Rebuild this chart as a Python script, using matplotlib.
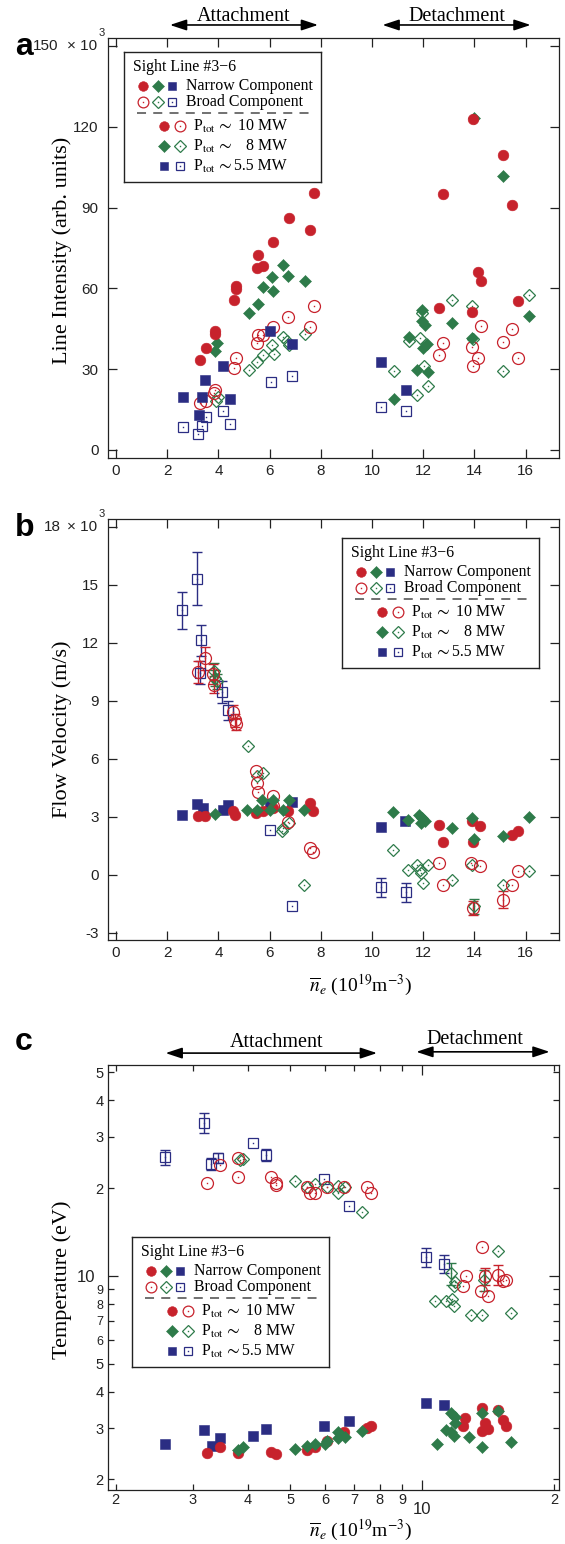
import matplotlib
matplotlib.use('Agg')
import matplotlib.pyplot as plt
import numpy as np
from matplotlib.ticker import FixedLocator, FixedFormatter
from matplotlib.patches import FancyArrowPatch
import matplotlib.transforms as mtransforms

# ======================= DATA =======================
# Panel a : line intensity (x10^3 arb. units) vs line-averaged density (10^19 m^-3)
a_red_n_x = [7.73, 6.74, 7.58, 6.15, 5.56, 5.49, 5.75, 4.67, 4.70, 4.61, 3.87, 3.87, 3.50, 3.28,
             13.96, 15.13, 12.76, 15.47, 14.15, 14.26, 12.62, 13.89, 15.71]
a_red_n_y = [95.6, 86.2, 81.8, 77.4, 72.5, 67.5, 68.4, 60.7, 59.8, 55.8, 44.0, 43.1, 38.0, 33.5,
             122.9, 109.4, 95.0, 90.8, 66.2, 62.6, 52.8, 51.2, 55.3]
a_grn_n_x = [6.54, 6.73, 6.08, 7.38, 5.75, 6.15, 5.53, 5.20, 3.93, 3.87,
             14.0, 15.13, 11.97, 11.94, 12.07, 13.11, 16.11, 11.45, 12.0, 12.15, 13.89, 11.77, 12.2, 10.86]
a_grn_n_y = [68.5, 64.7, 64.2, 62.9, 60.5, 59.2, 54.3, 50.8, 39.7, 36.6,
             123.3, 101.9, 51.8, 47.7, 46.5, 47.3, 49.8, 41.9, 37.8, 39.5, 41.5, 29.5, 29.1, 19.0]
a_blu_n_x = [6.02, 6.89, 4.17, 3.48, 2.60, 3.35, 4.45, 3.24, 10.34, 11.32]
a_blu_n_y = [44.0, 39.3, 31.0, 26.0, 19.8, 19.8, 19.0, 13.0, 32.5, 22.3]
a_red_b_x = [7.73, 6.73, 6.15, 7.58, 5.56, 5.73, 5.49, 4.69, 4.61, 3.87, 3.84, 3.28, 3.52,
             14.26, 15.47, 12.76, 13.91, 15.13, 12.62, 14.15, 15.71, 13.93]
a_red_b_y = [53.3, 49.2, 45.8, 45.8, 42.7, 42.7, 39.7, 34.3, 30.6, 22.1, 21.1, 17.3, 18.3,
             46.1, 44.9, 39.7, 38.4, 39.9, 35.2, 34.3, 34.1, 31.0]
a_grn_b_x = [6.54, 7.38, 6.67, 6.77, 6.08, 5.75, 6.18, 5.49, 5.21, 4.00, 3.89,
             13.11, 16.11, 13.91, 11.94, 11.88, 11.45, 13.96, 10.87, 15.13, 12.04, 12.2, 11.77]
a_grn_b_y = [41.9, 43.1, 40.3, 38.8, 39.0, 35.3, 35.5, 32.5, 29.7, 19.6, 18.3,
             55.8, 57.4, 53.5, 50.8, 41.5, 40.6, 41.1, 29.4, 29.4, 31.0, 23.9, 20.3]
a_blu_b_x = [6.04, 6.89, 4.17, 3.50, 2.63, 3.35, 4.45, 3.22, 10.34, 11.33]
a_blu_b_y = [25.4, 27.3, 14.6, 12.1, 8.7, 8.9, 9.5, 5.8, 16.1, 14.6]

# Panel b : flow velocity (x10^3 m/s)
b_red_n_x = [3.22, 3.48, 4.65, 4.59, 5.47, 5.75, 6.12, 6.73, 7.58, 7.71,
             12.62, 12.76, 13.89, 14.22, 13.93, 15.45, 15.71]
b_red_n_y = [3.02, 3.02, 3.10, 3.28, 3.17, 3.30, 3.45, 3.31, 3.72, 3.31,
             2.59, 1.67, 2.76, 2.50, 1.67, 2.07, 2.24]
b_grn_n_x = [3.87, 5.10, 5.49, 5.69, 6.12, 6.02, 6.54, 6.77, 7.33,
             10.83, 11.42, 11.84, 11.95, 12.05, 11.90, 13.11, 13.89, 14.00, 15.13, 16.11]
b_grn_n_y = [3.16, 3.33, 3.33, 3.84, 3.88, 3.33, 3.33, 3.88, 3.33,
             3.22, 2.85, 3.10, 2.95, 2.80, 2.65, 2.41, 2.93, 1.85, 2.02, 2.97]
b_blu_n_x = [2.57, 3.18, 3.41, 4.39, 4.17, 6.86, 6.02, 10.34, 11.29]
b_blu_n_y = [3.10, 3.67, 3.45, 3.59, 3.36, 3.74, 3.65, 2.45, 2.76]
b_red_b_x = [3.48, 3.22, 3.80, 3.83, 4.58, 4.65, 4.67, 5.46, 5.52, 5.56, 6.12, 6.12, 6.73, 7.58, 7.71,
             12.62, 12.76, 13.87, 14.22, 13.93, 15.45, 15.13, 15.71]
b_red_b_y = [11.2, 10.49, 10.38, 9.83, 8.42, 7.98, 7.81, 5.38, 4.74, 4.26, 4.05, 3.53, 2.71, 1.38, 1.15,
             0.60, -0.52, 0.60, 0.43, -1.72, -0.52, -1.29, 0.17]
b_red_b_e = [0.6, 0.55, 0.5, 0.45, 0.35, 0.35, 0.3, 0, 0, 0, 0, 0, 0, 0, 0,
             0, 0, 0, 0, 0.35, 0, 0.45, 0]
b_grn_b_x = [3.84, 3.87, 3.93, 5.17, 5.75, 5.49, 6.54, 6.50, 6.77, 7.34,
             10.83, 11.42, 11.74, 11.88, 12.20, 12.00, 11.90, 13.11, 13.89, 14.00, 15.13, 16.13]
b_grn_b_y = [10.52, 10.18, 10.0, 6.64, 5.26, 5.09, 2.41, 2.24, 2.67, -0.55,
             1.26, 0.26, 0.52, 0.26, 0.52, -0.41, 0.10, -0.26, 0.50, -1.64, -0.52, 0.17]
b_grn_b_e = [0.45, 0.4, 0.4, 0, 0, 0, 0, 0, 0, 0,
             0, 0, 0, 0, 0, 0, 0, 0, 0, 0.4, 0, 0]
b_blu_b_x = [3.18, 2.59, 3.32, 3.30, 4.13, 4.39, 6.02, 6.86, 10.34, 11.32]
b_blu_b_y = [15.31, 13.67, 12.12, 10.45, 9.45, 8.50, 2.29, -1.60, -0.66, -0.92]
b_blu_b_e = [1.38, 0.97, 0.8, 0.6, 0.55, 0.5, 0, 0, 0.5, 0.5]

# Panel c : temperature (eV)
c_red_n_x = [3.23, 3.46, 3.80, 4.53, 4.63, 5.45, 5.69, 6.07, 6.63, 7.48, 7.65,
             12.5, 12.4, 13.7, 13.9, 13.7, 14.1, 14.9, 15.3, 15.5]
c_red_n_y = [2.46, 2.59, 2.46, 2.48, 2.44, 2.53, 2.59, 2.71, 2.91, 3.01, 3.04,
             3.24, 3.04, 3.53, 3.13, 2.93, 2.97, 3.45, 3.19, 3.04]
c_grn_n_x = [3.80, 3.90, 5.12, 5.45, 5.69, 6.00, 6.07, 6.43, 6.43, 6.67, 7.28,
             10.8, 11.3, 11.6, 11.9, 11.9, 11.8, 11.6, 12.8, 13.7, 13.7, 14.9, 15.9]
c_grn_n_y = [2.53, 2.59, 2.55, 2.60, 2.65, 2.65, 2.72, 2.91, 2.78, 2.80, 2.93,
             2.64, 2.95, 3.39, 3.28, 3.12, 2.81, 2.91, 2.80, 3.38, 2.59, 3.43, 2.69]
c_blu_n_x = [2.59, 3.18, 3.31, 3.45, 4.12, 4.40, 5.98, 6.80, 10.2, 11.2]
c_blu_n_y = [2.64, 2.95, 2.60, 2.78, 2.81, 2.97, 3.04, 3.18, 3.67, 3.60]
c_red_b_x = [3.23, 3.46, 3.80, 3.80, 4.53, 4.63, 4.65, 5.45, 5.54, 5.69, 6.07, 6.63, 7.48, 7.65,
             13.7, 12.6, 12.4, 13.9, 13.6, 14.1, 14.9, 15.3, 15.5]
c_red_b_y = [20.8, 24.0, 25.4, 21.8, 21.9, 20.9, 20.5, 20.1, 19.2, 19.2, 20.1, 20.1, 20.2, 19.3,
             12.6, 9.97, 9.2, 9.97, 8.85, 8.55, 10.1, 9.6, 9.65]
c_red_b_e = [0, 0, 0, 0, 0, 0, 0, 0, 0, 0, 0, 0, 0, 0,
             0, 0, 0, 0.7, 0, 0, 0.8, 0, 0]
c_grn_b_x = [3.84, 3.90, 5.12, 5.46, 5.69, 6.06, 6.43, 6.43, 6.67, 7.28,
             14.9, 11.6, 11.9, 11.8, 10.7, 11.3, 11.7, 11.8, 13.8, 12.9, 13.7, 15.9]
c_grn_b_y = [25.0, 25.2, 21.1, 20.1, 20.7, 20.2, 20.4, 19.3, 20.2, 16.6,
             12.2, 10.2, 9.5, 9.2, 8.22, 8.22, 8.3, 7.9, 9.7, 7.35, 7.35, 7.45]
c_grn_b_e = [0, 0, 0, 0, 0, 0, 0, 0, 0, 0,
             0, 0.9, 0, 0, 0, 0, 0, 0, 0.8, 0, 0, 0]
c_blu_b_x = [2.59, 3.18, 3.29, 3.42, 4.12, 4.40, 5.98, 6.80, 10.2, 11.2]
c_blu_b_y = [25.5, 33.5, 24.2, 25.3, 28.6, 26.0, 21.5, 17.4, 11.6, 11.0]
c_blu_b_e = [1.5, 2.6, 1.1, 1.0, 0, 1.3, 0, 0, 0.9, 0.8]

# ticks / labels
ab_xticks = [0, 2, 4, 6, 8, 10, 12, 14, 16]
a_yticks = [0, 30, 60, 90, 120, 150]
a_yticklabels = ['0', '30', '60', '90', '120', '']
b_yticks = [-3, 0, 3, 6, 9, 12, 15, 18]
b_yticklabels = ['-3', '0', '3', '6', '9', '12', '15', '']
c_xminor = [2, 3, 4, 5, 6, 7, 8, 9, 20]
c_xminor_labels = ['2', '3', '4', '5', '6', '7', '8', '9', '2']
c_yminor = [2, 3, 4, 5, 6, 7, 8, 9, 20, 30, 40, 50]
c_yminor_labels = ['2', '3', '4', '5', '6', '7', '8', '9', '2', '3', '4', '5']
legend_power = ['10', '8', '5.5']

# ======================= STYLE =======================
W, H = 565, 1544
plt.rcParams['font.family'] = ['Liberation Sans', 'DejaVu Sans']
plt.rcParams['mathtext.fontset'] = 'stix'
SERIF = ['Liberation Serif', 'DejaVu Serif']
RED, GRN, BLU = '#C7222C', '#2E7B4A', '#2B2D83'
SPC = '#222222'

fig = plt.figure(figsize=(W / 100, H / 100), dpi=100)


def px_axes(l, t, r, b):
    return fig.add_axes([l / W, 1 - b / H, (r - l) / W, (b - t) / H])


def ftext(x, y, s, **kw):
    return fig.text(x / W, 1 - y / H, s, **kw)


MARK = {'c': 'o', 'd': 'D', 's': 's'}
MS_F = {'c': 7.7, 'd': 6.6, 's': 6.6}
MS_O = {'c': 8.6, 'd': 6.3, 's': 7.0}


def draw_marker(ax, x, y, kind, color, filled, scale=1.0, z=3):
    if filled:
        ax.plot(x, y, ls='none', marker=MARK[kind], ms=MS_F[kind] * scale,
                mfc=color, mec=color, mew=0.4, zorder=z, clip_on=False)
    else:
        ax.plot(x, y, ls='none', marker=MARK[kind], ms=MS_O[kind] * scale,
                mfc='none', mec=color, mew=0.9, zorder=z, clip_on=False)
        ax.plot(x, y, ls='none', marker='s', ms=1.0, mfc=color, mec='none',
                zorder=z, clip_on=False)


def draw_err(ax, x, y, e, color):
    x = np.asarray(x); y = np.asarray(y); e = np.asarray(e)
    m = e > 0
    if m.any():
        ax.errorbar(x[m], y[m], yerr=e[m], fmt='none', ecolor=color, elinewidth=1.0,
                    capsize=3.6, capthick=1.0, zorder=2)


def style_lin(ax):
    ax.tick_params(direction='in', top=True, right=True, length=6.5, width=0.9,
                   labelsize=11, colors=SPC)
    ax.tick_params(axis='y', pad=6.8)
    ax.tick_params(axis='x', pad=4)
    for s in ax.spines.values():
        s.set_linewidth(0.9); s.set_color(SPC)


def legend_box(l, t):
    w, h = 197, 130
    lax = fig.add_axes([l / W, 1 - (t + h) / H, w / W, h / H], zorder=5)
    lax.set_xlim(0, w); lax.set_ylim(h, 0)
    lax.set_xticks([]); lax.set_yticks([])
    for s in lax.spines.values():
        s.set_linewidth(1.0); s.set_color(SPC)
    fs = 11.4
    lax.text(9, 15, 'Sight Line #3\u22126', family=SERIF, fontsize=fs, va='center')
    for xx, kind, col in zip([19, 34, 48], ['c', 'd', 's'], [RED, GRN, BLU]):
        draw_marker(lax, [xx], [34], kind, col, True, 0.9)
        draw_marker(lax, [xx], [50], kind, col, False, 0.9)
    lax.text(62, 34, 'Narrow Component', family=SERIF, fontsize=fs, va='center')
    lax.text(62, 50, 'Broad Component', family=SERIF, fontsize=fs, va='center')
    lax.plot([13, 189], [61, 61], color='#666666', lw=1.3, dashes=(5, 4))
    for i, (kind, col, val) in enumerate(zip(['c', 'd', 's'], [RED, GRN, BLU], legend_power)):
        yy = 74 + 20 * i
        draw_marker(lax, [40], [yy], kind, col, True, 0.9)
        draw_marker(lax, [56], [yy], kind, col, False, 0.9)
        lax.text(69, yy, r'P$_{\rm tot}$', family=SERIF, fontsize=fs, va='center')
        lax.text(100, yy - 1, r'$\sim$', fontsize=fs + 2, va='center', ha='center')
        lax.text(163, yy, val + ' MW', family=SERIF, fontsize=fs, va='center', ha='right')


def span_arrow(ax, x0, x1, yf, label, xl, ylf):
    tr = mtransforms.blended_transform_factory(ax.transData, ax.transAxes)
    arr = FancyArrowPatch((x0, yf), (x1, yf), transform=tr,
                          arrowstyle='<|-|>,head_length=1.0,head_width=0.33',
                          mutation_scale=10, color='black', lw=1.2, clip_on=False)
    ax.add_artist(arr)
    ax.text(xl, ylf, label, transform=tr, family=SERIF, fontsize=14.5,
            ha='center', va='center', clip_on=False)


# ======================= PANEL A =======================
axa = px_axes(108, 38, 559, 458)
axa.set_xlim(-0.31, 17.3)
axa.set_ylim(-3.0, 153.0)
axa.set_xticks(ab_xticks)
axa.yaxis.set_major_locator(FixedLocator(a_yticks))
axa.yaxis.set_major_formatter(FixedFormatter(a_yticklabels))
style_lin(axa)
draw_marker(axa, a_blu_b_x, a_blu_b_y, 's', BLU, False)
draw_marker(axa, a_grn_b_x, a_grn_b_y, 'd', GRN, False)
draw_marker(axa, a_red_b_x, a_red_b_y, 'c', RED, False)
draw_marker(axa, a_blu_n_x, a_blu_n_y, 's', BLU, True)
draw_marker(axa, a_grn_n_x, a_grn_n_y, 'd', GRN, True)
draw_marker(axa, a_red_n_x, a_red_n_y, 'c', RED, True)
span_arrow(axa, 2.0, 8.0, 1.031, 'Attachment', 5.0, 1.050)
span_arrow(axa, 10.3, 16.3, 1.031, 'Detachment', 13.3, 1.050)
legend_box(124, 52)
ftext(62, 250, 'Line Intensity (arb. units)', family=SERIF, fontsize=16,
      rotation=90, ha='center', va='center')
ftext(15, 55, 'a', fontsize=23, fontweight='bold', va='baseline', ha='left')
ftext(33, 46, '150', fontsize=11, va='center', ha='left', color=SPC)
ftext(67, 46, '\u00d7 10', fontsize=11, va='center', ha='left', color=SPC)
ftext(99, 33, '3', fontsize=8, va='center', ha='left', color=SPC)

# ======================= PANEL B =======================
axb = px_axes(108, 519, 559, 940)
axb.set_xlim(-0.31, 17.3)
axb.set_ylim(-3.38, 18.4)
axb.set_xticks(ab_xticks)
axb.yaxis.set_major_locator(FixedLocator(b_yticks))
axb.yaxis.set_major_formatter(FixedFormatter(b_yticklabels))
style_lin(axb)
draw_err(axb, b_blu_b_x, b_blu_b_y, b_blu_b_e, BLU)
draw_err(axb, b_grn_b_x, b_grn_b_y, b_grn_b_e, GRN)
draw_err(axb, b_red_b_x, b_red_b_y, b_red_b_e, RED)
draw_marker(axb, b_blu_b_x, b_blu_b_y, 's', BLU, False)
draw_marker(axb, b_grn_b_x, b_grn_b_y, 'd', GRN, False)
draw_marker(axb, b_red_b_x, b_red_b_y, 'c', RED, False)
draw_marker(axb, b_blu_n_x, b_blu_n_y, 's', BLU, True)
draw_marker(axb, b_red_n_x, b_red_n_y, 'c', RED, True)
draw_marker(axb, b_grn_n_x, b_grn_n_y, 'd', GRN, True)
legend_box(342, 538)
ftext(62, 729, 'Flow Velocity (m/s)', family=SERIF, fontsize=16,
      rotation=90, ha='center', va='center')
ftext(361, 985, r'$\overline{n}_e$ (10$^{19}$m$^{-3}$)', family=SERIF, fontsize=14,
      ha='center', va='center')
ftext(15, 536, 'b', fontsize=23, fontweight='bold', va='baseline', ha='left')
ftext(44, 527, '18', fontsize=11, va='center', ha='left', color=SPC)
ftext(67, 527, '\u00d7 10', fontsize=11, va='center', ha='left', color=SPC)
ftext(99, 514, '3', fontsize=8, va='center', ha='left', color=SPC)

# ======================= PANEL C =======================
axc = px_axes(108, 1065, 559, 1490)
axc.set_xscale('log'); axc.set_yscale('log')
axc.set_xlim(1.92, 20.5)
axc.set_ylim(1.84, 52.9)
axc.xaxis.set_major_locator(FixedLocator([10]))
axc.xaxis.set_major_formatter(FixedFormatter(['10']))
axc.xaxis.set_minor_locator(FixedLocator(c_xminor))
axc.xaxis.set_minor_formatter(FixedFormatter(c_xminor_labels))
axc.yaxis.set_major_locator(FixedLocator([10]))
axc.yaxis.set_major_formatter(FixedFormatter(['10']))
axc.yaxis.set_minor_locator(FixedLocator(c_yminor))
axc.yaxis.set_minor_formatter(FixedFormatter(c_yminor_labels))
axc.tick_params(which='both', direction='in', top=True, right=True, width=0.9, colors=SPC)
axc.tick_params(which='major', length=7, labelsize=12)
axc.tick_params(which='minor', length=4, labelsize=10.5)
axc.tick_params(axis='x', which='major', pad=9)
axc.tick_params(axis='x', which='minor', pad=2.5)
axc.tick_params(axis='y', which='major', pad=9)
axc.tick_params(axis='y', which='minor', pad=3)
for s in axc.spines.values():
    s.set_linewidth(0.9); s.set_color(SPC)
yt = axc.yaxis.get_minor_ticks()
for i, v in enumerate(c_yminor):
    if v in (6, 7, 8, 9) and i < len(yt):
        yt[i].label1.set_fontsize(9)

draw_err(axc, c_blu_b_x, c_blu_b_y, c_blu_b_e, BLU)
draw_err(axc, c_grn_b_x, c_grn_b_y, c_grn_b_e, GRN)
draw_err(axc, c_red_b_x, c_red_b_y, c_red_b_e, RED)
draw_marker(axc, c_blu_b_x, c_blu_b_y, 's', BLU, False)
draw_marker(axc, c_grn_b_x, c_grn_b_y, 'd', GRN, False)
draw_marker(axc, c_red_b_x, c_red_b_y, 'c', RED, False)
draw_marker(axc, c_blu_n_x, c_blu_n_y, 's', BLU, True)
draw_marker(axc, c_red_n_x, c_red_n_y, 'c', RED, True)
draw_marker(axc, c_grn_n_x, c_grn_n_y, 'd', GRN, True)
span_arrow(axc, 2.56, 8.0, 1.028, 'Attachment', 4.66, 1.052)
span_arrow(axc, 9.55, 19.8, 1.031, 'Detachment', 13.2, 1.061)
legend_box(132, 1237)
ftext(62, 1280, 'Temperature (eV)', family=SERIF, fontsize=16,
      rotation=90, ha='center', va='center')
ftext(361, 1530, r'$\overline{n}_e$ (10$^{19}$m$^{-3}$)', family=SERIF, fontsize=14,
      ha='center', va='center')
ftext(15, 1050, 'c', fontsize=23, fontweight='bold', va='baseline', ha='left')

fig.savefig('out.png', dpi=100)
